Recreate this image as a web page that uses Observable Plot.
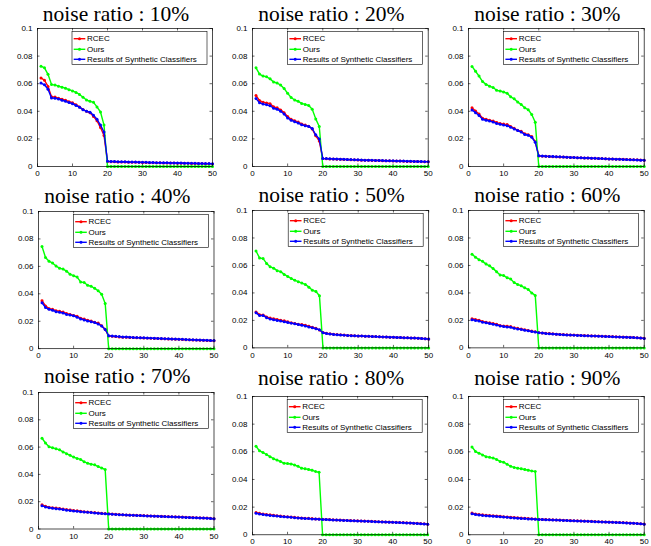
<!DOCTYPE html>
<html><head><meta charset="utf-8">
<script src="https://cdn.jsdelivr.net/npm/d3@7"></script>
<script src="https://cdn.jsdelivr.net/npm/@observablehq/plot@0.6"></script>
<style>
body{margin:0;background:#fff;}
#chart{position:relative;width:651px;height:546px;overflow:hidden;background:#fff;}
#chart svg{position:absolute;}
</style></head><body><div id="chart"></div>
<script>
// ---------- data ----------
const panelTitles = ["noise ratio : 10%","noise ratio : 20%","noise ratio : 30%","noise ratio : 40%","noise ratio : 50%","noise ratio : 60%","noise ratio : 70%","noise ratio : 80%","noise ratio : 90%"];
const seriesNames = ["RCEC","Ours","Results of Synthetic Classifiers"];
const seriesColors = ["#ff0000","#00ff00","#0000ff"];
const xTicks = [0,10,20,30,40,50];
const xTickLabels = ["0","10","20","30","40","50"];
const yTicks = [0,0.02,0.04,0.06,0.08,0.1];
const yTickLabels = ["0","0.02","0.04","0.06","0.08","0.1"];
const zeros31 = [0,0,0,0,0,0,0,0,0,0,0,0,0,0,0,0,0,0,0,0,0,0,0,0,0,0,0,0,0,0,0];

const rcec10 = [.0642,.0625,.0580,.0505,.0503,.0495,.0488,.0480,.0470,.0462,.0448,.0432,.0413,.0400,.0390,.0362,.0332,.0282,.0225,
 .0036,.0035,.0034,.0033,.0033,.0032,.0031,.0031,.0030,.0030,.0029,.0029,.0028,.0028,.0027,.0027,.0026,.0026,.0025,.0025,.0024,.0024,.0023,.0023,.0022,.0022,.0021,.0021,.0020,.0020,.0019];
const ours10 = [.0727,.0715,.0668,.0595,.0590,.0582,.0575,.0567,.0557,.0548,.0537,.0522,.0502,.0482,.0472,.0465,.0432,.0395,.0300, ...zeros31];
const synth10 = [.0605,.0592,.0560,.0497,.0495,.0490,.0480,.0472,.0463,.0455,.0442,.0430,.0412,.0400,.0394,.0372,.0342,.0300,.0250,
 .0038,.0037,.0036,.0035,.0034,.0034,.0033,.0032,.0032,.0031,.0030,.0030,.0029,.0029,.0028,.0028,.0027,.0027,.0026,.0026,.0025,.0025,.0024,.0024,.0023,.0023,.0022,.0022,.0021,.0021,.0020];

const rcec20 = [.0515,.0478,.0466,.0460,.0455,.0432,.0425,.0410,.0390,.0362,.0342,.0332,.0322,.0308,.0300,.0292,.0272,.0222,.0185,
 .0057,.0056,.0055,.0054,.0053,.0052,.0051,.0050,.0049,.0048,.0047,.0046,.0046,.0045,.0044,.0043,.0043,.0042,.0041,.0041,.0040,.0039,.0039,.0038,.0037,.0037,.0036,.0036,.0035,.0034,.0034];
const ours20 = [.0715,.0670,.0655,.0650,.0635,.0612,.0605,.0590,.0565,.0530,.0500,.0482,.0472,.0457,.0450,.0442,.0415,.0345,.0290, ...zeros31];
const synth20 = [.0492,.0462,.0452,.0447,.0440,.0422,.0415,.0400,.0380,.0352,.0335,.0325,.0315,.0302,.0296,.0290,.0275,.0230,.0200,
 .0058,.0057,.0056,.0055,.0054,.0053,.0052,.0051,.0050,.0049,.0048,.0047,.0046,.0046,.0045,.0044,.0044,.0043,.0042,.0042,.0041,.0040,.0040,.0039,.0038,.0038,.0037,.0036,.0036,.0035,.0035];

const rcec30 = [.0425,.0402,.0380,.0350,.0342,.0335,.0330,.0318,.0312,.0307,.0305,.0290,.0277,.0262,.0255,.0237,.0230,.0217,.0180,
 .0076,.0075,.0074,.0072,.0071,.0070,.0069,.0068,.0067,.0066,.0065,.0064,.0063,.0062,.0061,.0060,.0059,.0058,.0057,.0056,.0055,.0054,.0053,.0053,.0052,.0051,.0050,.0049,.0048,.0047,.0046];
const ours30 = [.0725,.0690,.0655,.0615,.0595,.0582,.0572,.0552,.0547,.0540,.0530,.0505,.0490,.0467,.0450,.0425,.0412,.0377,.0320, ...zeros31];
const synth30 = [.0410,.0390,.0370,.0342,.0335,.0330,.0322,.0312,.0306,.0300,.0296,.0285,.0272,.0260,.0250,.0232,.0226,.0212,.0175,
 .0077,.0076,.0074,.0073,.0072,.0071,.0070,.0068,.0067,.0066,.0065,.0064,.0063,.0062,.0061,.0060,.0059,.0058,.0057,.0056,.0055,.0054,.0053,.0052,.0051,.0050,.0049,.0048,.0047,.0046,.0045];

const rcec40 = [.0350,.0312,.0292,.0287,.0277,.0272,.0267,.0257,.0250,.0242,.0237,.0222,.0217,.0207,.0202,.0192,.0187,.0167,.0142,
 .0092,.0090,.0088,.0086,.0084,.0083,.0082,.0081,.0080,.0079,.0078,.0077,.0076,.0075,.0074,.0073,.0072,.0071,.0070,.0069,.0068,.0067,.0066,.0065,.0064,.0063,.0062,.0061,.0060,.0059,.0058];
const ours40 = [.0745,.0665,.0637,.0625,.0602,.0587,.0580,.0565,.0542,.0532,.0522,.0487,.0482,.0462,.0455,.0440,.0422,.0397,.0330, ...zeros31];
const synth40 = [.0335,.0300,.0287,.0280,.0270,.0265,.0260,.0250,.0245,.0240,.0230,.0217,.0210,.0202,.0197,.0190,.0180,.0165,.0140,
 .0095,.0092,.0090,.0088,.0086,.0085,.0084,.0082,.0081,.0080,.0079,.0078,.0077,.0076,.0075,.0074,.0073,.0072,.0071,.0070,.0069,.0068,.0067,.0066,.0065,.0064,.0063,.0062,.0061,.0060,.0059];

const rcec50 = [.0262,.0242,.0240,.0225,.0217,.0212,.0207,.0202,.0197,.0190,.0182,.0177,.0172,.0170,.0165,.0157,.0150,.0142,.0130,
 .0112,.0106,.0102,.0099,.0097,.0095,.0093,.0091,.0090,.0088,.0087,.0086,.0085,.0084,.0083,.0082,.0081,.0080,.0079,.0078,.0077,.0076,.0075,.0074,.0073,.0072,.0071,.0070,.0069,.0067,.0065];
const ours50 = [.0705,.0655,.0650,.0615,.0590,.0580,.0562,.0555,.0535,.0520,.0505,.0492,.0482,.0472,.0462,.0442,.0420,.0410,.0380, ...zeros31];
const synth50 = [.0255,.0235,.0235,.0220,.0210,.0205,.0200,.0195,.0190,.0185,.0180,.0175,.0170,.0165,.0160,.0152,.0146,.0140,.0132,
 .0110,.0105,.0101,.0098,.0096,.0094,.0092,.0091,.0089,.0088,.0087,.0086,.0085,.0084,.0083,.0082,.0081,.0080,.0079,.0078,.0077,.0076,.0075,.0074,.0073,.0072,.0071,.0070,.0068,.0066,.0064];

const rcec60 = [.0212,.0207,.0202,.0192,.0187,.0182,.0177,.0172,.0163,.0160,.0157,.0155,.0146,.0142,.0137,.0132,.0127,.0122,.0117,
 .0112,.0109,.0106,.0104,.0102,.0100,.0098,.0097,.0095,.0094,.0093,.0092,.0091,.0090,.0089,.0088,.0087,.0086,.0085,.0084,.0083,.0082,.0081,.0080,.0079,.0078,.0077,.0076,.0074,.0072,.0070];
const ours60 = [.0682,.0660,.0642,.0630,.0610,.0597,.0577,.0555,.0530,.0527,.0510,.0502,.0475,.0462,.0452,.0437,.0425,.0400,.0382, ...zeros31];
const synth60 = [.0205,.0200,.0195,.0187,.0182,.0177,.0172,.0167,.0160,.0156,.0152,.0150,.0142,.0138,.0133,.0128,.0124,.0119,.0115,
 .0111,.0108,.0105,.0103,.0101,.0099,.0097,.0096,.0094,.0093,.0092,.0091,.0090,.0089,.0088,.0087,.0086,.0085,.0084,.0083,.0082,.0081,.0080,.0079,.0078,.0077,.0076,.0075,.0073,.0071,.0069];

const rcec70 = [.0177,.0167,.0160,.0156,.0153,.0150,.0146,.0142,.0139,.0136,.0133,.0130,.0127,.0125,.0122,.0120,.0117,.0115,.0113,
 .0111,.0109,.0108,.0106,.0105,.0103,.0102,.0101,.0100,.0099,.0098,.0097,.0096,.0095,.0094,.0093,.0092,.0091,.0090,.0089,.0088,.0087,.0086,.0085,.0084,.0083,.0082,.0081,.0080,.0078,.0076];
const ours70 = [.0665,.0630,.0602,.0595,.0587,.0580,.0565,.0552,.0540,.0527,.0517,.0510,.0492,.0482,.0475,.0470,.0457,.0447,.0435, ...zeros31];
const synth70 = [.0170,.0162,.0156,.0152,.0149,.0146,.0142,.0138,.0135,.0132,.0130,.0127,.0124,.0122,.0120,.0118,.0115,.0113,.0111,
 .0110,.0108,.0107,.0105,.0104,.0102,.0101,.0100,.0099,.0098,.0097,.0096,.0095,.0094,.0093,.0092,.0091,.0090,.0089,.0088,.0087,.0086,.0085,.0084,.0083,.0082,.0081,.0080,.0079,.0077,.0075];

const rcec80 = [.0162,.0155,.0150,.0147,.0144,.0141,.0138,.0135,.0132,.0130,.0128,.0126,.0124,.0122,.0120,.0119,.0117,.0115,.0114,
 .0112,.0111,.0110,.0108,.0107,.0106,.0105,.0104,.0103,.0102,.0101,.0100,.0099,.0098,.0097,.0096,.0095,.0094,.0093,.0092,.0091,.0090,.0089,.0088,.0087,.0086,.0084,.0083,.0081,.0079,.0077];
const ours80 = [.0640,.0607,.0595,.0580,.0565,.0550,.0540,.0530,.0517,.0515,.0512,.0505,.0495,.0482,.0477,.0472,.0467,.0457,.0452, ...zeros31];
const synth80 = [.0155,.0150,.0146,.0143,.0140,.0137,.0135,.0132,.0130,.0128,.0126,.0124,.0122,.0120,.0118,.0117,.0115,.0114,.0112,
 .0111,.0110,.0109,.0107,.0106,.0105,.0104,.0103,.0102,.0101,.0100,.0099,.0098,.0097,.0096,.0095,.0094,.0093,.0092,.0091,.0090,.0089,.0088,.0087,.0086,.0085,.0083,.0082,.0080,.0078,.0076];

const rcec90 = [.0157,.0150,.0147,.0144,.0142,.0140,.0138,.0136,.0134,.0131,.0129,.0127,.0125,.0123,.0121,.0120,.0118,.0116,.0114,
 .0112,.0111,.0110,.0109,.0108,.0107,.0106,.0105,.0104,.0103,.0102,.0101,.0100,.0099,.0098,.0097,.0096,.0095,.0094,.0093,.0092,.0091,.0090,.0089,.0088,.0087,.0085,.0084,.0082,.0080,.0078];
const ours90 = [.0635,.0602,.0590,.0577,.0565,.0560,.0555,.0545,.0530,.0525,.0510,.0495,.0487,.0482,.0477,.0472,.0467,.0462,.0457, ...zeros31];
const synth90 = [.0152,.0146,.0143,.0140,.0138,.0136,.0134,.0132,.0130,.0128,.0126,.0124,.0122,.0120,.0118,.0117,.0115,.0114,.0112,
 .0111,.0110,.0109,.0108,.0107,.0106,.0105,.0104,.0103,.0102,.0101,.0100,.0099,.0098,.0097,.0096,.0095,.0094,.0093,.0092,.0091,.0090,.0089,.0088,.0087,.0086,.0084,.0083,.0081,.0079,.0077];

const panelSeries = [
  [rcec10, ours10, synth10], [rcec20, ours20, synth20], [rcec30, ours30, synth30],
  [rcec40, ours40, synth40], [rcec50, ours50, synth50], [rcec60, ours60, synth60],
  [rcec70, ours70, synth70], [rcec80, ours80, synth80], [rcec90, ours90, synth90]
];

// ---------- layout (pixel frame of each axes box) ----------
const frameL = [37, 252.3, 468.3, 37.5, 252.3, 468.3, 37.5, 252.3, 468.3];
const frameR = [212, 428, 644, 213, 428.5, 644, 213, 427.5, 644];
const frameT = [28, 28, 28, 210.5, 210.3, 210.3, 391.8, 395.7, 395.7];
const frameB = [166, 166, 166, 347.7, 347.7, 347.7, 528.3, 534, 534];
const titleBase = [20.7, 20.7, 20.7, 201.7, 201.7, 201.7, 382.7, 384, 384];

const ML = 40, MR = 8, MT = 40, MB = 20;
const sans = "'Liberation Sans', Arial, Helvetica, sans-serif";
const serif = "'Liberation Serif', 'Times New Roman', Times, serif";
const chart = document.getElementById("chart");

panelTitles.forEach((title, i) => {
  const W = frameR[i] - frameL[i], H = frameB[i] - frameT[i];
  const series = panelSeries[i];
  const seriesMarks = [];
  series.forEach((vals, s) => {
    const rows = vals.map((v, k) => ({x: k + 1, y: v}));
    seriesMarks.push(Plot.line(rows, {x: "x", y: "y", stroke: seriesColors[s], strokeWidth: 1.4}));
    seriesMarks.push(Plot.dot(rows, {x: "x", y: "y", fill: seriesColors[s], r: 1.5, stroke: "none"}));
  });
  const svg = Plot.plot({
    width: ML + W + MR, height: MT + H + MB,
    marginLeft: ML, marginRight: MR, marginTop: MT, marginBottom: MB,
    style: {background: "transparent", overflow: "visible", color: "black", fontFamily: sans},
    x: {domain: [0, 50], label: null},
    y: {domain: [0, 0.1], label: null},
    marks: [
      Plot.axisX(xTicks, {tickSize: 0, tickPadding: 4, fontSize: 8, fontFamily: sans, tickFormat: d => xTickLabels[xTicks.indexOf(d)], label: null}),
      Plot.axisY(yTicks, {tickSize: 0, tickPadding: 5, fontSize: 8, fontFamily: sans, tickFormat: d => yTickLabels[yTicks.indexOf(d)], label: null}),
      Plot.tickX(xTicks, {x: d => d, insetTop: H - 2.5, stroke: "black", strokeWidth: 0.6}),
      Plot.tickX(xTicks, {x: d => d, insetBottom: H - 2.5, stroke: "black", strokeWidth: 0.6}),
      Plot.tickY(yTicks, {y: d => d, insetRight: W - 2.5, stroke: "black", strokeWidth: 0.6}),
      Plot.tickY(yTicks, {y: d => d, insetLeft: W - 2.5, stroke: "black", strokeWidth: 0.6}),
      ...seriesMarks,
      Plot.frame({stroke: "black", strokeWidth: 0.7}),
      Plot.text([title], {frameAnchor: "top", dx: -9, dy: titleBase[i] - frameT[i], lineAnchor: "bottom", fontFamily: serif, fontSize: 21.5, fill: "black"})
    ]
  });
  svg.style.left = (frameL[i] - ML) + "px";
  svg.style.top = (frameT[i] - MT) + "px";

  // legend box (top-right inside the axes)
  const lgW = 135, lgH = 33;
  const g = d3.select(svg).append("g")
    .attr("text-anchor", "start")
    .attr("transform", `translate(${ML + W - 5 - lgW},${MT + 3.3})`);
  g.append("rect").attr("width", lgW).attr("height", lgH).attr("fill", "white").attr("stroke", "black").attr("stroke-width", 0.6);
  const rowY = [7.4, 18, 28];
  seriesNames.forEach((name, s) => {
    const r = g.append("g").attr("transform", `translate(0,${rowY[s]})`);
    r.append("line").attr("x1", 1.7).attr("x2", 13.3).attr("stroke", seriesColors[s]).attr("stroke-width", 1.4);
    r.append("circle").attr("cx", 7.5).attr("r", 1.5).attr("fill", seriesColors[s]);
    r.append("text").attr("x", 15).attr("dy", "0.32em").attr("text-anchor", "start")
      .attr("font-size", 8).attr("font-family", sans).attr("fill", "black").text(name);
  });
  chart.appendChild(svg);
});
</script>
</body></html>
